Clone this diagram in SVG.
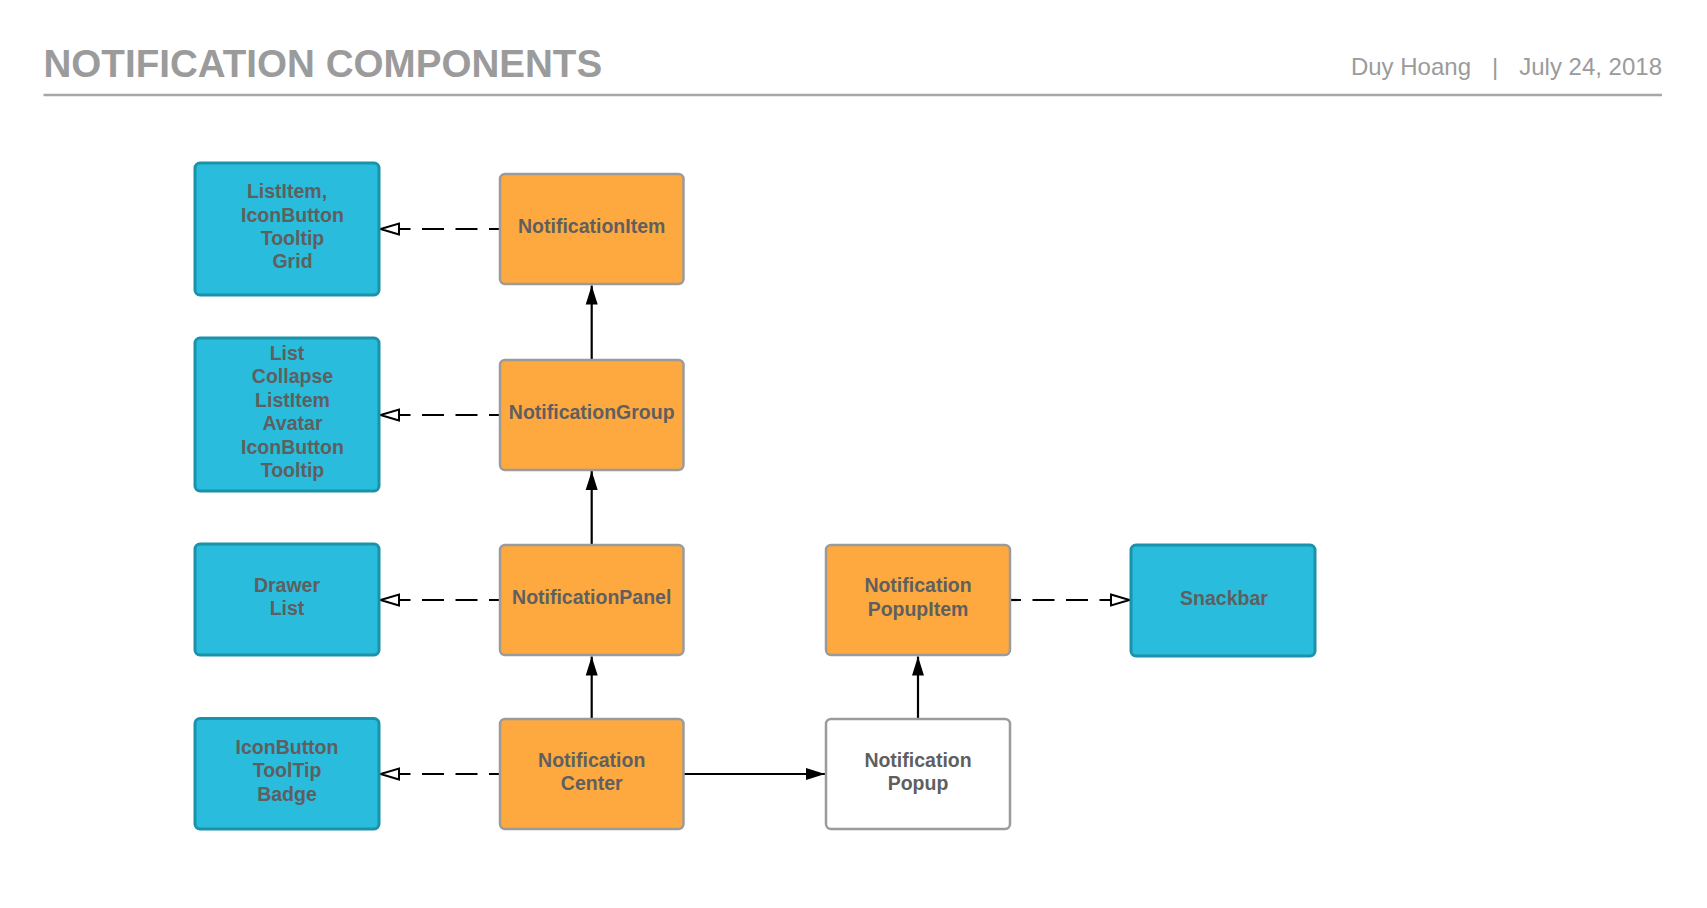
<svg xmlns="http://www.w3.org/2000/svg" width="1707" height="908" viewBox="0 0 1707 908">
<style>
  .hdr { font-family: "Liberation Sans", Arial, sans-serif; fill: #9b9b9b; }
  .lbl { font-family: "Liberation Sans", Arial, sans-serif; font-weight: bold; font-size: 19.5px; fill: #5f5f5f; text-anchor: middle; }
  .blue { fill: #29bcdc; stroke: #1a93aa; stroke-width: 3; }
  .orange { fill: #fea93f; stroke: #9b9b9b; stroke-width: 2.5; }
  .white { fill: #ffffff; stroke: #9b9b9b; stroke-width: 2.5; }
  .dash { fill: none; stroke: #000; stroke-width: 2.2; stroke-dasharray: 22 11.5; stroke-dashoffset: 11; marker-end: url(#open); }
  .solid { fill: none; stroke: #000; stroke-width: 2.2; marker-end: url(#filled); }
</style>
<defs>
  <marker id="open" markerUnits="userSpaceOnUse" markerWidth="26" markerHeight="18" refX="20" refY="8" orient="auto" overflow="visible">
    <path d="M1.5,2.5 L20,8 L1.5,13.5 Z" fill="#ffffff" stroke="#000" stroke-width="2" stroke-linejoin="miter"/>
  </marker>
  <marker id="filled" markerUnits="userSpaceOnUse" markerWidth="22" markerHeight="14" refX="19" refY="6" orient="auto" overflow="visible">
    <path d="M0,0 L19,6 L0,12 Z" fill="#000"/>
  </marker>
</defs>
<rect width="1707" height="908" fill="#ffffff"/>

<g id="header">
  <text class="hdr" x="43.5" y="77.3" font-size="38.6" font-weight="bold">NOTIFICATION COMPONENTS</text>
  <text class="hdr" x="1471" y="75" font-size="24" text-anchor="end">Duy Hoang</text>
  <text class="hdr" x="1495" y="75" font-size="24" text-anchor="middle">|</text>
  <text class="hdr" x="1662" y="75" font-size="24" text-anchor="end">July 24, 2018</text>
  <line x1="43.5" y1="95" x2="1662" y2="95" stroke="#a6a6a6" stroke-width="2.5"/>
</g>

<g id="connectors">
  <path class="dash" d="M500,229 L380.5,229"/>
  <path class="dash" d="M500,415 L380.5,415"/>
  <path class="dash" d="M500,600 L380.5,600"/>
  <path class="dash" d="M500,774 L380.5,774"/>
  <path class="dash" d="M1010,600 L1129.5,600"/>
  <path class="solid" d="M591.7,360 L591.7,285.5"/>
  <path class="solid" d="M591.7,545 L591.7,471"/>
  <path class="solid" d="M591.7,719 L591.7,656.5"/>
  <path class="solid" d="M918,719 L918,656.5"/>
  <path class="solid" d="M683.5,774 L825,774"/>
</g>

<g id="listitem-iconbutton-tooltip-grid">
  <rect class="blue" x="195" y="163" width="184" height="132" rx="5"/>
  <text class="lbl" x="287" y="198.3">ListItem,</text>
  <text class="lbl" x="292.5" y="221.7">IconButton</text>
  <text class="lbl" x="292.5" y="245">Tooltip</text>
  <text class="lbl" x="292.5" y="268.3">Grid</text>
</g>

<g id="list-collapse-listitem-avatar-iconbutton-tooltip">
  <rect class="blue" x="195" y="338" width="184" height="153" rx="5"/>
  <text class="lbl" x="287" y="360">List</text>
  <text class="lbl" x="292.5" y="383.3">Collapse</text>
  <text class="lbl" x="292.5" y="406.7">ListItem</text>
  <text class="lbl" x="292.5" y="430">Avatar</text>
  <text class="lbl" x="292.5" y="454">IconButton</text>
  <text class="lbl" x="292.5" y="477.3">Tooltip</text>
</g>

<g id="drawer-list">
  <rect class="blue" x="195" y="544" width="184" height="111" rx="5"/>
  <text class="lbl" x="287" y="591.7">Drawer</text>
  <text class="lbl" x="287" y="615">List</text>
</g>

<g id="iconbutton-tooltip-badge">
  <rect class="blue" x="195" y="718.5" width="184" height="110.5" rx="5"/>
  <text class="lbl" x="287" y="754">IconButton</text>
  <text class="lbl" x="287" y="777.3">ToolTip</text>
  <text class="lbl" x="287" y="800.7">Badge</text>
</g>

<g id="notification-item">
  <rect class="orange" x="500" y="174" width="183.5" height="110" rx="5"/>
  <text class="lbl" x="591.7" y="233.3">NotificationItem</text>
</g>

<g id="notification-group">
  <rect class="orange" x="500" y="360" width="183.5" height="110" rx="5"/>
  <text class="lbl" x="591.7" y="419.3">NotificationGroup</text>
</g>

<g id="notification-panel">
  <rect class="orange" x="500" y="545" width="183.5" height="110" rx="5"/>
  <text class="lbl" x="591.7" y="604">NotificationPanel</text>
</g>

<g id="notification-center">
  <rect class="orange" x="500" y="719" width="183.5" height="110" rx="5"/>
  <text class="lbl" x="591.7" y="766.7">Notification</text>
  <text class="lbl" x="591.7" y="790">Center</text>
</g>

<g id="notification-popupitem">
  <rect class="orange" x="826" y="545" width="184" height="110" rx="5"/>
  <text class="lbl" x="918" y="591.7">Notification</text>
  <text class="lbl" x="918" y="615.5">PopupItem</text>
</g>

<g id="notification-popup">
  <rect class="white" x="826" y="719" width="184" height="110" rx="5"/>
  <text class="lbl" x="918" y="766.7">Notification</text>
  <text class="lbl" x="918" y="790">Popup</text>
</g>

<g id="snackbar">
  <rect class="blue" x="1131" y="545" width="184" height="111" rx="5"/>
  <text class="lbl" x="1224" y="605">Snackbar</text>
</g>
</svg>
